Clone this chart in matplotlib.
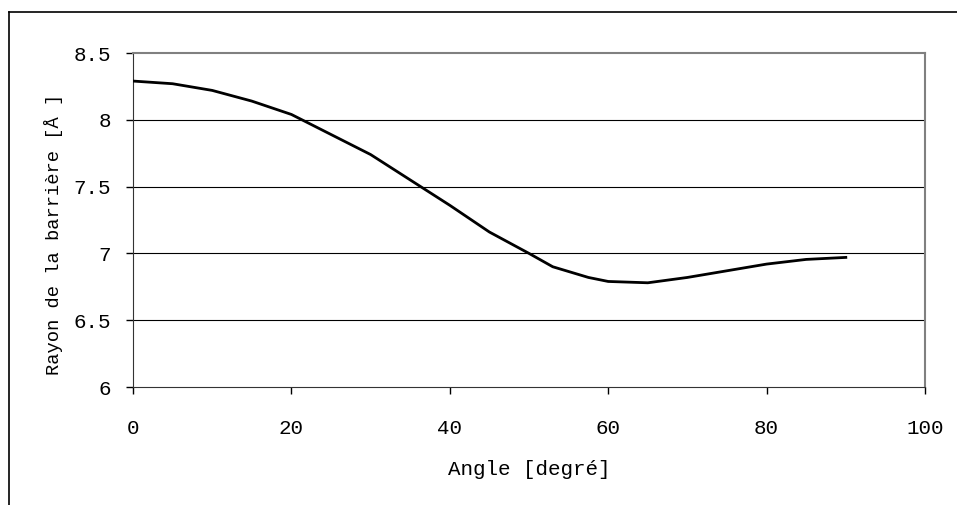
import numpy as np
import matplotlib.pyplot as plt
from matplotlib.lines import Line2D

# Data
angle = [0, 5, 10, 15, 20, 30, 40, 45, 50, 53, 57.5, 60, 65, 70, 75, 80, 85, 90]
rayon = [8.29, 8.27, 8.22, 8.14, 8.04, 7.74, 7.36, 7.16, 7.0, 6.90, 6.82, 6.79, 6.78,
         6.82, 6.87, 6.92, 6.955, 6.97]
x_ticks = [0, 20, 40, 60, 80, 100]
y_ticks = [6, 6.5, 7, 7.5, 8, 8.5]
y_tick_labels = ['6', '6.5', '7', '7.5', '8', '8.5']

plt.rcParams['font.family'] = ['Liberation Mono', 'DejaVu Sans Mono']

fig = plt.figure(figsize=(9.57, 5.05), dpi=100)
ax = fig.add_axes([133/957, 1 - 387/505, (925 - 133)/957, (387 - 53)/505])

# outer frame (top and left only visible)
fig.add_artist(Line2D([9/957, 1.0], [1 - 12/505, 1 - 12/505], color='k', lw=1.2,
                      transform=fig.transFigure))
fig.add_artist(Line2D([9/957, 9/957], [0.0, 1 - 12/505], color='k', lw=1.2,
                      transform=fig.transFigure))

for y in y_ticks[1:-1]:
    ax.axhline(y, color='k', lw=0.8, zorder=1)

ax.plot(angle, rayon, color='k', lw=2, zorder=3)

ax.set_xlim(0, 100)
ax.set_ylim(6, 8.5)
ax.set_xticks(x_ticks)
ax.set_yticks(y_ticks)
ax.set_yticklabels(y_tick_labels)
ax.tick_params(axis='both', direction='out', length=5, width=1, labelsize=15)
ax.tick_params(axis='x', pad=18)
ax.tick_params(axis='y', pad=11)

ax.spines['top'].set_color('#808080')
ax.spines['right'].set_color('#808080')
ax.spines['top'].set_linewidth(1.5)
ax.spines['right'].set_linewidth(1.5)
ax.spines['left'].set_color('#333333')
ax.spines['bottom'].set_color('#333333')

ax.set_xlabel('Angle [degré]', fontsize=15, labelpad=16)
ax.set_ylabel('Rayon de la barrière [Å ]', fontsize=13.5)
ax.yaxis.set_label_coords(-0.088, 0.458)

plt.savefig('out.png', dpi=100)
plt.close()
